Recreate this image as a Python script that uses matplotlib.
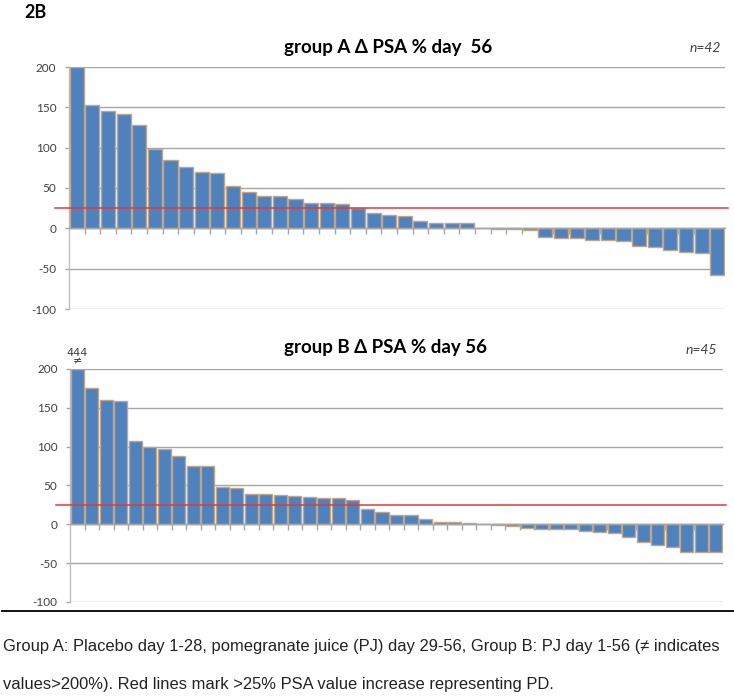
import matplotlib
matplotlib.use("Agg")
import matplotlib.pyplot as plt
import numpy as np

group_a = [200, 153, 145, 142, 128, 98, 85, 76, 70, 68, 53, 45, 40, 40, 36, 32, 31, 30,
           25, 19.5, 16.5, 15, 9, 7, 7, 7, 0, -0.5, -1, -2, -10.5, -12, -12, -15, -15,
           -16, -22, -23, -27, -29, -31, -58]
group_b = [200, 175.5, 160, 158.5, 107, 99, 97.5, 88, 75, 75, 48, 47, 39, 39, 38, 36.5,
           35.5, 33.5, 33.5, 31, 20, 16.5, 12, 12, 7.5, 3, 3, 2, 1, -1, -2.5, -5, -6, -6,
           -6, -8.5, -10, -11.5, -16, -22.5, -26.5, -29, -36, -36, -36]
yticks = [-100, -50, 0, 50, 100, 150, 200]
titles = ["group A \u0394 PSA % day  56", "group B \u0394 PSA % day 56"]
n_labels = ["n=42", "n=45"]
threshold = 25
overflow_label = "444\n\u2260"
caption = ["Group A: Placebo day 1-28, pomegranate juice (PJ) day 29-56, Group B: PJ day 1-56 (\u2260 indicates",
           "values>200%). Red lines mark >25% PSA value increase representing PD."]

W, H = 734, 697
fig = plt.figure(figsize=(W / 100, H / 100), dpi=100)

BAR = "#4F81BD"
EDGE = "#BFA58A"
GRID = "#A6A6A6"
chart_font = "Lato"

def px_axes(left, right, top, bottom):
    return fig.add_axes([left / W, 1 - bottom / H, (right - left) / W, (bottom - top) / H])

layouts = [(69, 725, 67, 309), (70, 723, 369, 602)]
title_pos = [(388, 47), (385, 348)]
n_pos = [(721, 48), (717, 350)]

for i, data in enumerate([group_a, group_b]):
    l, r, t, b = layouts[i]
    ax = px_axes(l, r, t, b)
    n = len(data)
    x = np.arange(n)
    ax.bar(x, data, width=0.9, color=BAR, edgecolor=EDGE, linewidth=1.0, zorder=3)
    ax.set_xlim(-0.5, n - 0.5)
    ax.set_ylim(-100, 200)
    ax.set_yticks(yticks)
    ax.set_yticklabels([str(v) for v in yticks], fontsize=8.5, color="#404040", family=chart_font)
    ax.yaxis.grid(True, color=GRID, linewidth=1.0, zorder=0)
    ax.set_axisbelow(True)
    for s in ["top", "right"]:
        ax.spines[s].set_visible(False)
    ax.spines["left"].set_color("#BFBFBF")
    ax.spines["left"].set_linewidth(1.0)
    ax.spines["bottom"].set_position(("data", 0))
    ax.spines["bottom"].set_color(GRID)
    ax.spines["bottom"].set_linewidth(1.0)
    ax.spines["bottom"].set_zorder(4)
    ax.set_xticks(np.arange(n - 1) + 0.5)
    ax.set_xticklabels([])
    ax.tick_params(axis="x", direction="out", length=4, color=GRID, width=1)
    ax.tick_params(axis="y", direction="out", length=3, color=GRID, width=1, pad=6)
    ax.axhline(threshold, xmin=-0.021, xmax=1.005, color="#E03A3A", linewidth=1.1,
               clip_on=False, zorder=5)
    fig.text(title_pos[i][0] / W, 1 - title_pos[i][1] / H, titles[i], ha="center", va="center",
             fontsize=13.5, fontweight="bold", family=chart_font)
    fig.text(n_pos[i][0] / W, 1 - n_pos[i][1] / H, n_labels[i], ha="right", va="center",
             fontsize=10, style="italic", family=chart_font, color="#404040")
    if i == 1:
        ax.text(0, 203, overflow_label, ha="center", va="bottom", fontsize=8,
                family="DejaVu Sans", color="#404040", linespacing=0.85)

fig.text(24 / W, 1 - 13 / H, "2B", ha="left", va="center", fontsize=13,
         fontweight="bold", family=chart_font)

fig.add_artist(plt.Line2D([2 / W, 1], [1 - 610.5 / H] * 2, color="black", linewidth=1.3))

fig.text(3 / W, 1 - 646 / H, caption[0], ha="left", va="center", fontsize=11.9,
         family="Liberation Sans", color="#222222")
fig.text(3 / W, 1 - 684 / H, caption[1], ha="left", va="center", fontsize=11.9,
         family="Liberation Sans", color="#222222")

fig.savefig("out.png", dpi=100, facecolor="white")
